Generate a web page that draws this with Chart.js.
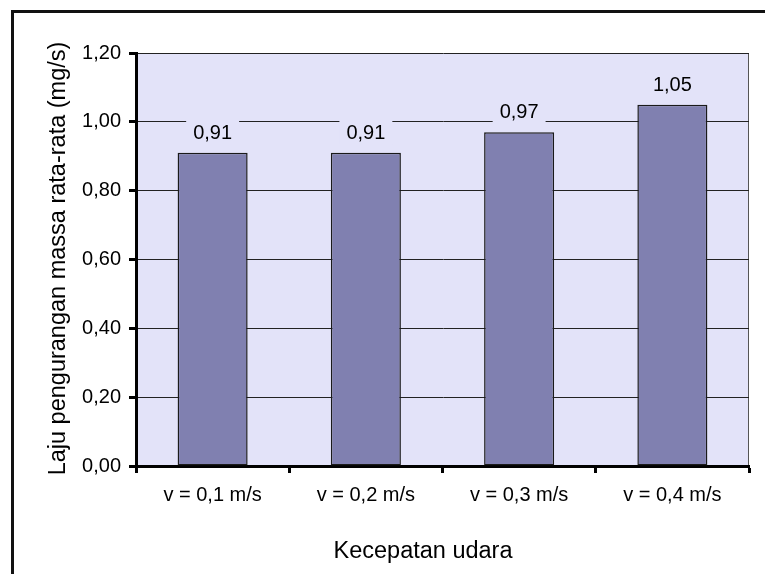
<!DOCTYPE html>
<html>
<head>
<meta charset="utf-8">
<script src="https://cdn.jsdelivr.net/npm/chart.js@4.4.0/dist/chart.umd.min.js"></script>
<style>
  html, body { margin: 0; padding: 0; background: #ffffff; }
  #wrap { width: 765px; height: 574px; }
</style>
</head>
<body>
<div id="wrap"><canvas id="c" width="765" height="574"></canvas></div>
<script>
const categories = ['v = 0,1 m/s', 'v = 0,2 m/s', 'v = 0,3 m/s', 'v = 0,4 m/s'];
const values = [0.91, 0.91, 0.97, 1.05];
const valueLabels = ['0,91', '0,91', '0,97', '1,05'];
const yTitle = 'Laju pengurangan massa rata-rata (mg/s)';
const xTitle = 'Kecepatan udara';

const FONT = "'Liberation Sans', Arial, sans-serif";
const PLOT_BG = '#E3E3F9';
const BAR_FILL = '#8080B0';

const decorPlugin = {
  id: 'decor',
  beforeDraw(chart) {
    const ctx = chart.ctx;
    const a = chart.chartArea;
    ctx.save();
    ctx.fillStyle = '#ffffff';
    ctx.fillRect(0, 0, chart.width, chart.height);
    // outer frame
    ctx.strokeStyle = '#111111';
    ctx.lineWidth = 3;
    ctx.beginPath();
    ctx.moveTo(12.5, chart.height + 5);
    ctx.lineTo(12.5, 11.5);
    ctx.lineTo(chart.width + 5, 11.5);
    ctx.stroke();
    // plot background
    ctx.fillStyle = PLOT_BG;
    ctx.fillRect(a.left, a.top, a.right - a.left, a.bottom - a.top);
    // plot border (right)
    ctx.strokeStyle = '#555555';
    ctx.lineWidth = 1;
    ctx.beginPath();
    ctx.moveTo(a.right - 0.5, a.top);
    ctx.lineTo(a.right - 0.5, a.bottom);
    ctx.stroke();
    ctx.restore();
  },
  afterDatasetsDraw(chart) {
    const ctx = chart.ctx;
    const meta = chart.getDatasetMeta(0);
    ctx.save();
    ctx.font = '20px ' + FONT;
    ctx.textAlign = 'center';
    ctx.textBaseline = 'alphabetic';
    meta.data.forEach((bar, i) => {
      const txt = valueLabels[i];
      const w = ctx.measureText(txt).width;
      const base = bar.y - 14;
      ctx.fillStyle = PLOT_BG;
      ctx.fillRect(bar.x - w / 2 - 7, base - 18, w + 14, 24);
      ctx.fillStyle = '#000000';
      ctx.fillText(txt, bar.x, base);
    });
    ctx.restore();
  },
  afterDraw(chart) {
    const ctx = chart.ctx;
    ctx.save();
    ctx.fillStyle = '#000000';
    ctx.font = '23.5px ' + FONT;
    ctx.textAlign = 'center';
    ctx.textBaseline = 'alphabetic';
    ctx.fillText(xTitle, 423, 558);
    ctx.translate(64.5, 258.5);
    ctx.rotate(-Math.PI / 2);
    ctx.fillText(yTitle, 0, 0);
    ctx.restore();
  }
};

new Chart(document.getElementById('c'), {
  type: 'bar',
  data: {
    labels: categories,
    datasets: [{
      data: values,
      backgroundColor: BAR_FILL,
      borderColor: '#1a1a1a',
      borderWidth: 1.5,
      borderSkipped: false,
      categoryPercentage: 1,
      barPercentage: 0.457
    }]
  },
  options: {
    responsive: false,
    animation: false,
    devicePixelRatio: 1,
    layout: { padding: { top: 53, right: 16, left: 0, bottom: 0 } },
    plugins: { legend: { display: false }, tooltip: { enabled: false }, title: { display: false } },
    scales: {
      x: {
        offset: true,
        afterFit(s) { s.height = 108; },
        border: { display: true, color: '#000000', width: 3 },
        grid: { display: true, offset: true, drawOnChartArea: false, drawTicks: true, tickLength: 7, tickWidth: 3, tickColor: '#000000', color: '#000000' },
        ticks: { color: '#000000', font: { family: FONT, size: 20 }, padding: 10, maxRotation: 0, autoSkip: false }
      },
      y: {
        min: 0,
        max: 1.2,
        afterFit(s) { s.width = 136; },
        border: { display: true, color: '#000000', width: 3 },
        grid: { display: true, drawOnChartArea: true, color: '#222222', lineWidth: 1, tickLength: 7, tickWidth: 3, tickColor: '#000000' },
        ticks: {
          stepSize: 0.2,
          color: '#000000',
          font: { family: FONT, size: 20 },
          padding: 8,
          callback: (v) => Number(v).toFixed(2).replace('.', ',')
        }
      }
    }
  },
  plugins: [decorPlugin]
});
</script>
</body>
</html>
